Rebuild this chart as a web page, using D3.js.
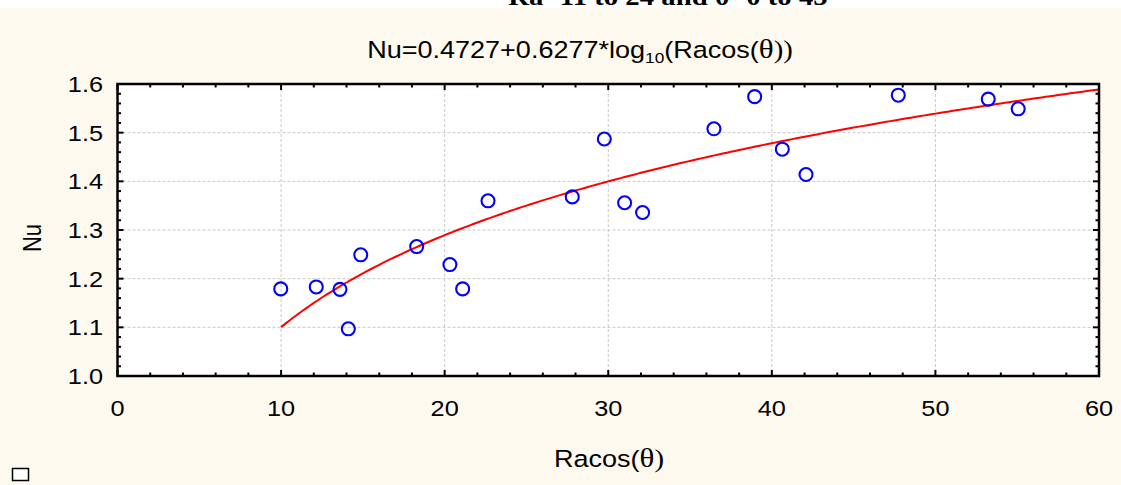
<!DOCTYPE html>
<html><head><meta charset="utf-8">
<script src="https://cdn.jsdelivr.net/npm/d3@7"></script>
<style>body{margin:0;background:#fff}svg{display:block}</style>
</head><body>
<svg id="c" width="1121" height="485"></svg>
<script>
const racos = [9.98,12.15,13.60,14.11,14.87,18.29,20.32,21.10,22.65,27.80,29.76,31.00,32.10,36.46,38.95,40.64,42.09,47.73,53.23,55.06];
const nu    = [1.179,1.183,1.178,1.097,1.249,1.266,1.229,1.179,1.360,1.368,1.487,1.356,1.336,1.508,1.574,1.466,1.414,1.577,1.569,1.549];
const fitCoef = [0.4727, 0.6277]; // Nu = a + b*log10(x), as printed in the title
const fitRange = [10, 60];
const xTicks = [0,10,20,30,40,50,60];
const yTicks = [1.0,1.1,1.2,1.3,1.4,1.5,1.6];
const headerText = "Ra=11 to 24 and \u03B8=0 to 45";

const svg = d3.select("#c");
const W=1121,H=485;
const SX = 1.15; // horizontal stretch of text seen in the reference
const m = {l:117.5, r:1099, t:84, b:376};
const font = "Liberation Sans, Arial, sans-serif";
const serif = "Liberation Serif, Times New Roman, serif";

svg.append("rect").attr("width",W).attr("height",H).attr("fill","#fdf9ee");
svg.append("rect").attr("width",W).attr("height",8).attr("fill","#ffffff");

function txt(x0,y0,anchor,size,family,rot){
  return svg.append("text")
    .attr("transform",`translate(${x0},${y0})${rot?` rotate(${rot})`:""} scale(${SX},1)`)
    .attr("text-anchor",anchor).attr("font-family",family).attr("font-size",size).attr("fill","#000");
}
txt(668,5,"middle",25,serif).attr("font-weight","bold").text(headerText);

const x = d3.scaleLinear().domain([0,60]).range([m.l,m.r]);
const y = d3.scaleLinear().domain([1.0,1.6]).range([m.b,m.t]);

svg.append("rect").attr("x",m.l).attr("y",m.t).attr("width",m.r-m.l).attr("height",m.b-m.t).attr("fill","#fff");

// grid
const g = svg.append("g");
g.selectAll(".gx").data(xTicks.slice(1,-1)).join("line")
  .attr("x1",d=>x(d)).attr("x2",d=>x(d)).attr("y1",m.t).attr("y2",m.b)
  .attr("stroke","#c8c8c8").attr("stroke-dasharray","3,2").attr("stroke-width",1);
g.selectAll(".gy").data(yTicks.slice(1,-1)).join("line")
  .attr("y1",d=>y(d)).attr("y2",d=>y(d)).attr("x1",m.l).attr("x2",m.r)
  .attr("stroke","#c8c8c8").attr("stroke-dasharray","3,2").attr("stroke-width",1);

// fit curve
const fitPts = d3.range(fitRange[0], fitRange[1]+0.001, 0.25).map(v=>[v, fitCoef[0]+fitCoef[1]*Math.log10(v)]);
svg.append("path").attr("d", d3.line().x(d=>x(d[0])).y(d=>y(d[1]))(fitPts))
  .attr("fill","none").attr("stroke","#ff0000").attr("stroke-width",2);

// points
svg.append("g").selectAll("circle").data(racos.map((v,i)=>[v,nu[i]])).join("circle")
  .attr("cx",d=>x(d[0])).attr("cy",d=>y(d[1])).attr("r",6.5)
  .attr("fill","none").attr("stroke","#0000ff").attr("stroke-width",2.1);

// axes with inward ticks
const xMinor = d3.range(0,60.001,2);
const yMinor = d3.range(1.0,1.6001,0.02);
const ax = svg.append("g").attr("stroke","#000");
[[m.b,-1],[m.t,1]].forEach(([yy,dir])=>{
  ax.append("g").selectAll("line").data(xMinor).join("line")
    .attr("x1",d=>x(d)).attr("x2",d=>x(d)).attr("y1",yy)
    .attr("y2",d=> yy + dir*(Math.round(d)%10===0?6:3.5))
    .attr("stroke-width",2);
});
[[m.l,1],[m.r,-1]].forEach(([xx,dir])=>{
  ax.append("g").selectAll("line").data(yMinor).join("line")
    .attr("y1",d=>y(d)).attr("y2",d=>y(d)).attr("x1",xx)
    .attr("x2",d=> xx + dir*(Math.abs(d*10-Math.round(d*10))<1e-6?6:3.5))
    .attr("stroke-width",2);
});
svg.append("rect").attr("x",m.l).attr("y",m.t).attr("width",m.r-m.l).attr("height",m.b-m.t)
  .attr("fill","none").attr("stroke","#000").attr("stroke-width",2.5);

// tick labels
xTicks.forEach(d=>txt(x(d),416,"middle",22,font).text(d));
yTicks.forEach(d=>txt(103,y(d)+8,"end",22,font).text(d.toFixed(1)));

// title
const t = txt(580,58,"middle",23.5,font);
t.append("tspan").text("Nu=0.4727+0.6277*log");
t.append("tspan").attr("font-size",15).attr("dy",5).text("10");
t.append("tspan").attr("dy",-5).text("(Racos(");
t.append("tspan").attr("font-family",serif).attr("font-size",27).text("\u03B8");
t.append("tspan").attr("font-family",serif).attr("font-size",25).text("))");

// x label
const xl = txt(609,467,"middle",23.5,font);
xl.append("tspan").text("Racos(");
xl.append("tspan").attr("font-family",serif).attr("font-size",27).text("\u03B8");
xl.append("tspan").attr("font-family",serif).attr("font-size",25).text(")");

// y label
svg.append("text").attr("transform","translate(41,238) rotate(-90) scale(1,1.15)").attr("text-anchor","middle")
  .attr("font-family",font).attr("font-size",22).attr("fill","#000").text("Nu");

// small box
svg.append("rect").attr("x",12.5).attr("y",468.5).attr("width",16).attr("height",12)
  .attr("fill","#fff").attr("stroke","#000").attr("stroke-width",1.5);
</script>
</body></html>
